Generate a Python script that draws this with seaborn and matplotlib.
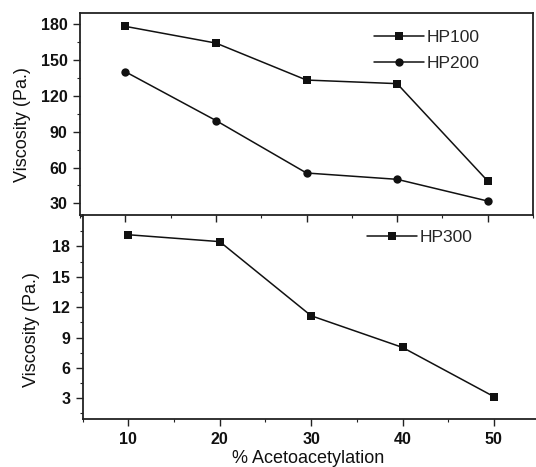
import matplotlib
matplotlib.use("Agg")
import matplotlib.pyplot as plt
from matplotlib.ticker import MultipleLocator
import seaborn as sns
import pandas as pd

# Degree of acetoacetylation (%)
acetoacetylation = [10, 20, 30, 40, 50]
# Viscosity values (Pa.)
hp100 = [178.3, 164.3, 133.3, 130.3, 48.7]
hp200 = [140.3, 99.4, 55.4, 50.1, 31.9]
hp300 = [19.15, 18.47, 11.15, 8.02, 3.16]

sns.set_theme(style="white")
plt.rcParams["font.family"] = ["Liberation Sans", "DejaVu Sans"]

W, H = 536, 467
fig = plt.figure(figsize=(W / 100, H / 100), dpi=100)


def px_axes(left, top, right, bottom):
    return fig.add_axes([left / W, 1 - bottom / H, (right - left) / W, (bottom - top) / H])


ax_top = px_axes(80, 13, 533, 215)
ax_bot = px_axes(82.6, 215, 539.6, 419)

top_df = pd.DataFrame({"x": acetoacetylation, "HP100": hp100, "HP200": hp200})
bot_df = pd.DataFrame({"x": acetoacetylation, "HP300": hp300})

line_kw = dict(color="#111111", linewidth=1.1, markersize=6, markeredgewidth=0)
sns.lineplot(data=top_df, x="x", y="HP100", marker="s", label="HP100", ax=ax_top, **line_kw)
sns.lineplot(data=top_df, x="x", y="HP200", marker="o", label="HP200", ax=ax_top, **line_kw)
sns.lineplot(data=bot_df, x="x", y="HP300", marker="s", label="HP300", ax=ax_bot, **line_kw)

ax_top.set_xlim(5, 55)
ax_top.set_ylim(20.2, 189.5)
ax_bot.set_xlim(5, 55)
ax_bot.set_ylim(0.95, 21.1)

for ax in (ax_top, ax_bot):
    ax.xaxis.set_major_locator(MultipleLocator(10))
    ax.xaxis.set_minor_locator(MultipleLocator(5))
    ax.tick_params(which="major", direction="out", length=5, width=1, color="#222222",
                   bottom=True, left=True, pad=4, labelcolor="#111111")
    ax.tick_params(which="minor", direction="out", length=2.5, width=0.8, color="#222222",
                   bottom=True, left=True)
    for s in ax.spines.values():
        s.set_color("#222222")
        s.set_linewidth(1.3)
    ax.set_facecolor("none")

ax_top.yaxis.set_minor_locator(MultipleLocator(15))
ax_top.set_yticks([30, 60, 90, 120, 150, 180])
ax_top.tick_params(axis="x", labelbottom=False)
ax_top.tick_params(axis="y", pad=4)
ax_top.set_xlabel("")

ax_bot.yaxis.set_minor_locator(MultipleLocator(1.5))
ax_bot.set_yticks([3, 6, 9, 12, 15, 18])
ax_bot.tick_params(axis="y", pad=4)
ax_bot.spines["top"].set_visible(False)
ax_bot.spines["right"].set_visible(False)

for ax in (ax_top, ax_bot):
    for lab in ax.get_xticklabels() + ax.get_yticklabels():
        lab.set_family("Liberation Sans")
        lab.set_fontweight("bold")
        lab.set_fontsize(11.5)

label_font = dict(family="Liberation Sans", size=13, color="#111111")
ax_top.set_ylabel("Viscosity (Pa.)", **label_font)
ax_top.yaxis.set_label_coords(-0.108, 0.446)
ax_bot.set_ylabel("Viscosity (Pa.)", **label_font)
ax_bot.yaxis.set_label_coords(-0.093, 0.436)
ax_bot.set_xlabel("% Acetoacetylation", **label_font)
ax_bot.xaxis.set_label_coords((308 - 82.6) / 457, -0.152)

leg_kw = dict(frameon=False, loc="upper left", handlelength=2.9, handletextpad=0.15,
              borderpad=0, borderaxespad=0, labelspacing=0.6,
              prop=dict(family="Liberation Sans", size=12.5))
ax_top.legend(bbox_to_anchor=((374 - 80) / 453, 1 - (30 - 13) / 202), **leg_kw)
ax_bot.legend(bbox_to_anchor=((367 - 82.6) / 457, 1 - (230 - 215) / 204), **leg_kw)

fig.savefig("out.png", dpi=100)
